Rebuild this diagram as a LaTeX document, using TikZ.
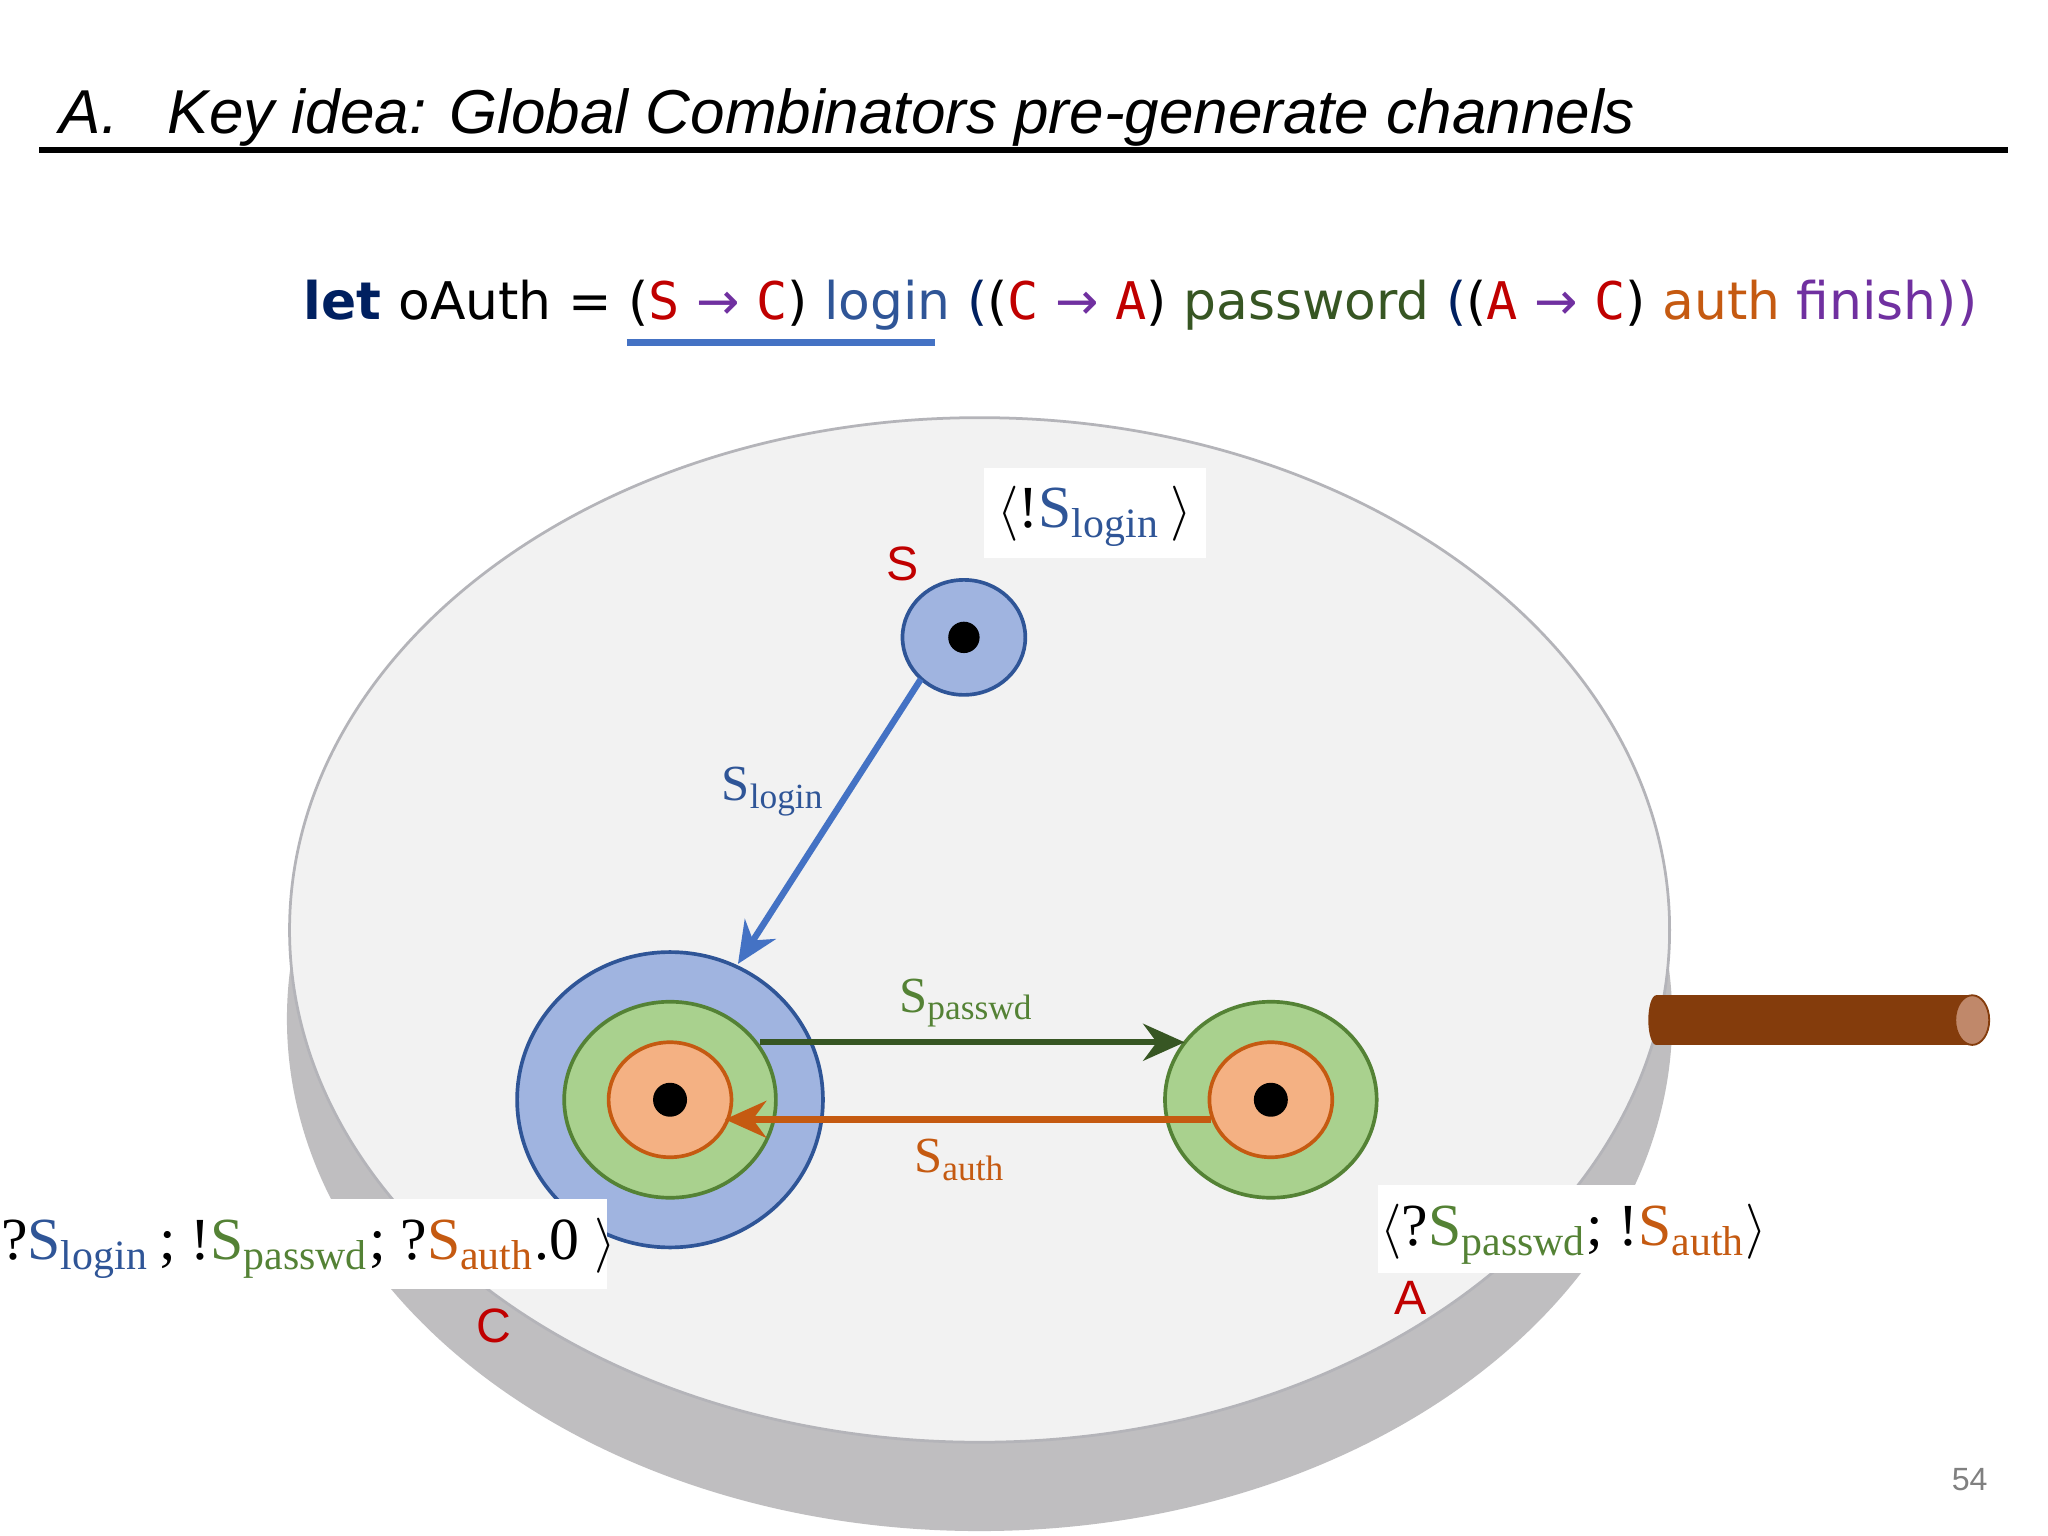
\documentclass[tikz,border=0pt]{standalone}
\usepackage{fontspec}
\usetikzlibrary{arrows.meta}
\setmainfont{Liberation Serif}
\newfontfamily\sans{Liberation Sans}
\newfontfamily\dsans{DejaVu Sans}
\newfontfamily\dmono{DejaVu Sans Mono}
\definecolor{cblue}{HTML}{2F5597}
\definecolor{lblue}{HTML}{4472C4}
\definecolor{cgreen}{HTML}{548235}
\definecolor{dgreen}{HTML}{375623}
\definecolor{corange}{HTML}{C55A11}
\definecolor{cred}{HTML}{C00000}
\definecolor{cpurple}{HTML}{7030A0}
\definecolor{cnavy}{HTML}{002060}
\definecolor{fblue}{HTML}{A0B4E0}
\definecolor{fgreen}{HTML}{A9D18E}
\definecolor{forange}{HTML}{F4B183}
\newcommand{\la}{$\langle$}
\newcommand{\ra}{$\rangle$}
\begin{document}
\begin{tikzpicture}[x=0.01cm,y=-0.01cm,
  lab/.style={inner sep=0pt,font=\fontsize{13}{15}\selectfont},
  rlab/.style={text=cred,font=\sans\fontsize{10.5}{12}\selectfont,inner sep=0pt},
  arr/.style={line width=1.4pt,-{Stealth[length=9pt,width=8pt]}}]
\useasboundingbox (0,0) rectangle (1568,1176);
\fill[white] (0,0) rectangle (1568,1176);
% title
\node[anchor=base west,inner sep=0pt,font=\sans\itshape\fontsize{13.5}{16}\selectfont] (title) at (45,102) {A.\hspace{0.8em}Key idea: Global Combinators pre-generate channels};
\draw[line width=1.2pt] (30,115) coordinate (tl) -- (1537,115) coordinate (tr);
% code
\node[anchor=base west,inner sep=0pt,font=\dsans\fontsize{11.3}{14}\selectfont] (code) at (232,245) {\textbf{\textcolor{cnavy}{let}} oAuth = (\textcolor{cred}{\dmono S} \textcolor{cpurple}{→} \textcolor{cred}{\dmono C}) \textcolor{cblue}{login} \textcolor{cnavy}{(}(\textcolor{cred}{\dmono C} \textcolor{cpurple}{→} \textcolor{cred}{\dmono A}) \textcolor{dgreen}{password} \textcolor{cnavy}{(}(\textcolor{cred}{\dmono A} \textcolor{cpurple}{→} \textcolor{cred}{\dmono C}) \textcolor{corange}{auth} \textcolor{cpurple}{finish))}};
\draw[lblue,line width=1.5pt] (480,262) coordinate (ul) -- (716,262) coordinate (ur);
% disk
\fill[fill={rgb,255:red,191;green,190;blue,192}] (750,780) ellipse [x radius=5.3cm,y radius=3.92cm];
\filldraw[fill={rgb,255:red,242;green,242;blue,242},draw={rgb,255:red,180;green,180;blue,185},line width=0.6pt] (750,712) ellipse [x radius=5.28cm,y radius=3.92cm];
% stick
\fill[fill={rgb,255:red,132;green,60;blue,12}] (1268,762) rectangle (1510,800);
\fill[fill={rgb,255:red,132;green,60;blue,12}] (1268,781) ellipse [x radius=0.06cm,y radius=0.19cm];
\filldraw[fill={rgb,255:red,192;green,136;blue,106},draw={rgb,255:red,132;green,60;blue,12}] (1510,781) ellipse [x radius=0.13cm,y radius=0.19cm];
% S
\filldraw[fill=fblue,draw=cblue,line width=0.8pt] (738,488) ellipse [x radius=0.47cm,y radius=0.44cm];
\fill[black] (738,488) circle [radius=0.12cm];
\node (S) at (738,488) [minimum size=0.9cm,inner sep=0pt] {};
% C
\filldraw[fill=fblue,draw=cblue,line width=0.8pt] (513,842) ellipse [x radius=1.17cm,y radius=1.13cm];
\filldraw[fill=fgreen,draw=cgreen,line width=0.8pt] (513,842) ellipse [x radius=0.81cm,y radius=0.75cm];
\filldraw[fill=forange,draw=corange,line width=0.8pt] (513,842) ellipse [x radius=0.47cm,y radius=0.44cm];
\fill[black] (513,842) circle [radius=0.13cm];
\node (C) at (513,842) {};
% A
\filldraw[fill=fgreen,draw=cgreen,line width=0.8pt] (973,842) ellipse [x radius=0.81cm,y radius=0.75cm];
\filldraw[fill=forange,draw=corange,line width=0.8pt] (973,842) ellipse [x radius=0.47cm,y radius=0.44cm];
\fill[black] (973,842) circle [radius=0.13cm];
\node (A) at (973,842) {};
% arrows
\coordinate (s1) at (705,520); \coordinate (c1) at (565,738);
\draw[arr,lblue] (s1) -- (c1);
\coordinate (p1) at (582,798); \coordinate (p2) at (907,798);
\draw[arr,dgreen] (p1) -- (p2);
\coordinate (a1) at (927,857); \coordinate (a2) at (555,857);
\draw[arr,corange] (a1) -- (a2);
% edge labels
\node[lab,text=cblue,font=\fontsize{11}{13}\selectfont] (ls) at (592,606) {S\textsubscript{login}};
\node[lab,text=cgreen,font=\fontsize{11}{13}\selectfont] (lp) at (740,768) {S\textsubscript{passwd}};
\node[lab,text=corange,font=\fontsize{11}{13}\selectfont] (la) at (735,888) {S\textsubscript{auth}};
% type boxes
\fill[white] (753,358) rectangle (923,427);
\node[lab] (tS) at (838,395) {\la!\textcolor{cblue}{S\textsubscript{login}}\,\ra};
\fill[white] (0,918) rectangle (465,987);
\node[lab] (tC) at (228,956) {\la?\textcolor{cblue}{S\textsubscript{login}}\,; !\textcolor{cgreen}{S\textsubscript{passwd}}; ?\textcolor{corange}{S\textsubscript{auth}}.0 \ra};
\fill[white] (1055,907) rectangle (1340,975);
\node[lab] (tA) at (1205,945) {\la?\textcolor{cgreen}{S\textsubscript{passwd}}; !\textcolor{corange}{S\textsubscript{auth}}\ra};
% names
\node[rlab] (nS) at (691,432) {S};
\node[rlab] (nC) at (378,1015) {C};
\node[rlab] (nA) at (1080,994) {A};
\node[inner sep=0pt,text=gray,font=\sans\fontsize{7}{8}\selectfont] (pg) at (1508,1133) {54};
\end{tikzpicture}
\end{document}
